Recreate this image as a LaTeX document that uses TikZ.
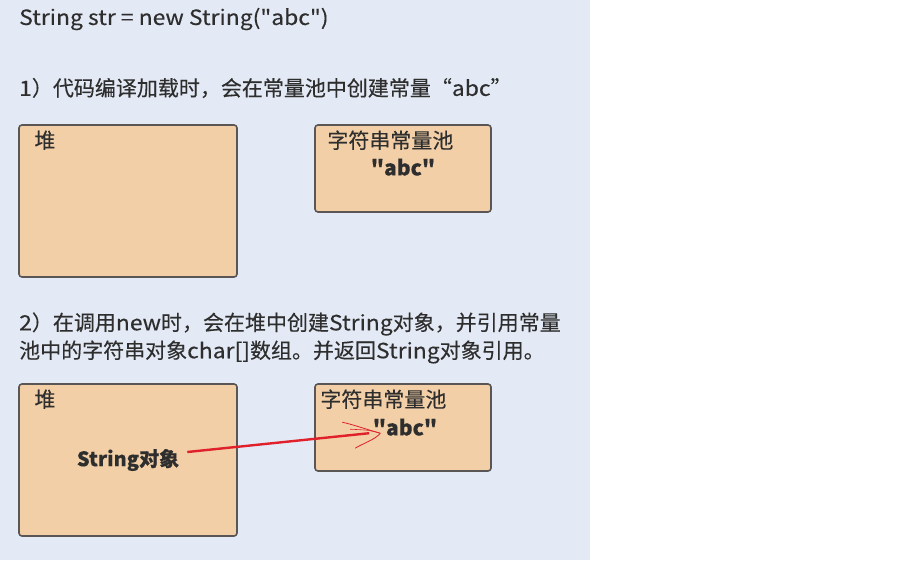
\documentclass[tikz,border=0pt]{standalone}
\usepackage{fontspec}
\newfontfamily\cjkfont{Noto Sans CJK SC}[FakeBold=0.25]
\newfontfamily\latfont{Noto Sans CJK SC}[FakeStretch=1.09, FakeBold=0.25]
\newcommand{\lat}[1]{{\latfont #1}}
\definecolor{panel}{HTML}{E3EAF5}
\definecolor{boxfill}{HTML}{F2CFA7}
\definecolor{boxline}{HTML}{5A5656}
\definecolor{ink}{HTML}{2E2E2E}
\definecolor{refred}{HTML}{E0202A}
\begin{document}
\begin{tikzpicture}[x=1pt,y=-1pt,
  box/.style={draw=boxline, fill=boxfill, line width=1.6pt, rounded corners=3pt, inner sep=0pt},
  txt/.style={anchor=west, inner sep=0pt, text=ink, font=\cjkfont\fontsize{21}{29}\selectfont},
  val/.style={inner sep=0pt, text=ink, font=\cjkfont\fontsize{21}{29}\selectfont\bfseries}]

\fill[panel] (0,0) rectangle (590,560);
\useasboundingbox (0,0) rectangle (897,560);

\node[txt] (code) at (19,19) {\lat{String str = new String("abc")}};
\node[txt] (step1) at (19,88) {\lat{1}）代码编译加载时，会在常量池中创建常量“\lat{abc}”};

% step 1
\node[box, minimum width=218, minimum height=152] (heap1) at (128,201) {};
\node[box, minimum width=176, minimum height=87] (pool1) at (403,168.5) {};
\node[txt] (heaplbl1) at ([shift={(16,16)}]heap1.north west) {堆};
\node[txt] (poollbl1) at ([shift={(13,16)}]pool1.north west) {字符串常量池};
\node[val] (abc1) at ([shift={(0,43)}]pool1.north) {"abc"};

\node[txt] (step2a) at (19,324) {\lat{2}）在调用\lat{new}时，会在堆中创建\lat{String}对象，并引用常量};
\node[txt] (step2b) at (19,352) {池中的字符串对象\lat{char[]}数组。并返回\lat{String}对象引用。};

% step 2
\node[box, minimum width=218, minimum height=152] (heap2) at (128,460) {};
\node[box, minimum width=176, minimum height=87] (pool2) at (403,427.5) {};
\node[txt] (heaplbl2) at ([shift={(16,16)}]heap2.north west) {堆};
\node[txt] (poollbl2) at ([shift={(6,16)}]pool2.north west) {字符串常量池};
\node[val] (abc2) at ([shift={(2,44)}]pool2.north) {"abc"};
\node[val, font=\cjkfont\fontsize{20}{24}\selectfont\bfseries] (obj) at (heap2) {String对象};

\coordinate (tip) at ([shift={(66,50)}]pool2.north west);
\draw[refred, line width=2.4pt] ([shift={(8,-8)}]obj.east) -- ([xshift=-11]tip);
\draw[refred, line width=0.8pt] (tip) .. controls ++(-8,-2) and ++(10,2) .. ++(-38,-11);
\draw[refred, line width=0.6pt] (tip) .. controls ++(-10,-3) .. ++(-30,-4);
\draw[refred, line width=0.8pt] (tip) .. controls ++(-4,6) and ++(6,-4) .. ++(-25,15);

\end{tikzpicture}
\end{document}
